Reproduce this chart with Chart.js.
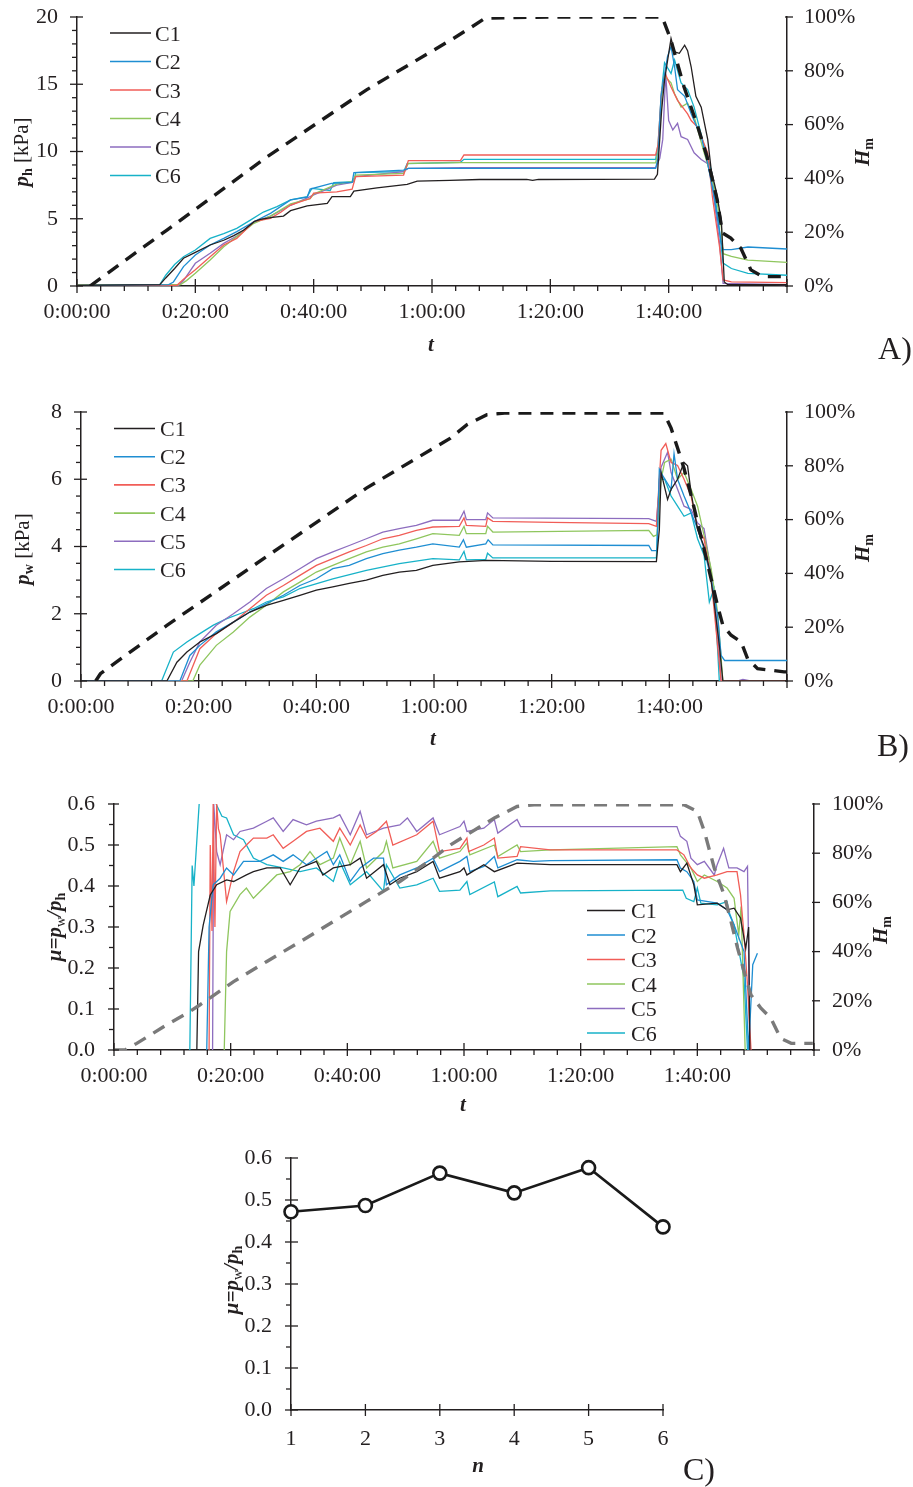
<!DOCTYPE html>
<html><head><meta charset="utf-8">
<script src="https://cdn.jsdelivr.net/npm/chart.js@4.4.1/dist/chart.umd.min.js"></script>
<style>
html,body{margin:0;padding:0;background:#fff;}
body{width:913px;height:1487px;position:relative;overflow:hidden;}
canvas{position:absolute;left:0;}
</style></head><body>
<canvas id="cA"></canvas><canvas id="cB"></canvas><canvas id="cC"></canvas><canvas id="cD"></canvas>
<script>
// ---------------- DATA ----------------
const seriesNames = ['C1','C2','C3','C4','C5','C6'];
const timeTickLabels = ['0:00:00','0:20:00','0:40:00','1:00:00','1:20:00','1:40:00'];
const hmTickLabels = ['0%','20%','40%','60%','80%','100%'];
const phTickLabels = ['0','5','10','15','20'];
const pwTickLabels = ['0','2','4','6','8'];
const muTickLabels = ['0.0','0.1','0.2','0.3','0.4','0.5','0.6'];
const nValues = [1,2,3,4,5,6];
const nTickLabels = ['1','2','3','4','5','6'];
const muMean = [0.472,0.487,0.564,0.517,0.577,0.436];

// Panel A: p_h [kPa] vs t [min]
const A_C1 = [[0,0.05],[14,0.1],[15,0.6],[16.5,1.3],[18,2.06],[20,2.5],[22.5,3.05],[24.8,3.4],[26.5,3.75],[28.2,4.16],[30,4.8],[31,4.95],[33,5.1],[34.9,5.2],[36.1,5.6],[38.9,5.95],[42.3,6.15],[43.1,6.64],[46.2,6.64],[46.8,7.06],[50.7,7.3],[55.8,7.56],[57.5,7.8],[63,7.85],[68,7.92],[76,7.92],[77,7.85],[78,7.92],[97.6,7.95],[98.1,8.3],[98.8,13.0],[99.3,15.3],[100.4,18.4],[101,17.4],[101.8,17.3],[102.7,17.9],[103.2,17.5],[103.8,16.3],[104.6,14.1],[105.5,13.3],[106.6,10.9],[107.2,8.6],[108,7.1],[108.9,4.9],[109.4,0.3],[110,0.1],[120,0.1]];
const A_C2 = [[0,0.05],[15.5,0.1],[16.3,0.3],[18,1.44],[20,2.3],[22.5,3.05],[24.8,3.54],[27,4.04],[29.9,4.78],[32.7,5.4],[36.1,6.4],[38.9,6.6],[39.4,7.2],[43,7.63],[46.5,7.7],[46.8,8.43],[55.2,8.62],[56,8.75],[97.8,8.75],[98.2,9.5],[98.7,14.1],[99.8,17.05],[100.4,17.8],[101,16.3],[101.5,14.6],[102.7,14.1],[103.8,12.8],[105.5,11.1],[106.6,9.1],[107.7,6.6],[108.9,3.2],[109.2,2.7],[110.6,2.7],[113.4,2.9],[120,2.75]];
const A_C3 = [[0,0.05],[16.9,0.05],[18,0.5],[20,1.2],[22.5,2.18],[24.8,3.05],[27,3.54],[29.9,4.78],[32.7,5.03],[34.5,5.5],[36.1,6.02],[38.3,6.34],[39.4,6.5],[40,6.9],[43.9,7.0],[46.5,7.2],[47.1,8.13],[55.2,8.25],[56,9.32],[64.8,9.32],[65.4,9.74],[80,9.74],[97.8,9.74],[98.2,10.5],[98.8,14.5],[99.4,15.8],[100.4,14.8],[101.5,13.8],[103.2,12.8],[103.8,12.3],[104.9,11.8],[106.6,9.9],[107.4,6.6],[108.6,2.9],[109.2,0.45],[110.6,0.3],[120,0.25]];
const A_C4 = [[0,0.1],[17.5,0.1],[18.5,0.4],[20,0.94],[22.5,1.93],[24.8,2.92],[27,3.67],[29.9,4.66],[32.7,5.2],[36.1,6.1],[39.4,6.5],[40,6.84],[43.9,7.58],[46.5,7.76],[47.1,8.25],[55.2,8.38],[56,9.12],[65,9.18],[97.8,9.15],[98.2,10],[98.8,14],[99.3,15.6],[100.4,15.1],[101,14.3],[102.1,13.3],[103.2,13.6],[104.3,12.6],[106,9.9],[107.7,7.4],[108.9,4.4],[109.2,2.4],[110.6,2.2],[113.4,1.93],[120,1.75]];
const A_C5 = [[0,0.05],[17.2,0.05],[18,0.4],[20,1.69],[22.5,2.43],[24.8,3.17],[27,3.72],[29.9,4.78],[32.7,5.2],[36.1,6.0],[39.4,6.64],[40,6.77],[43.9,7.5],[46.5,7.7],[47.1,8.13],[55.2,8.5],[56,8.75],[65,8.8],[97.8,8.8],[98.5,9.5],[99,10.9],[99.5,15.8],[100,12.3],[100.7,11.6],[101.5,12.1],[102.1,11.1],[103.2,10.9],[104.3,9.9],[105.5,9.4],[106.6,9.1],[107.4,7.4],[108.6,3.2],[109.2,0.2],[120,0.1]];
const A_C6 = [[0,0.05],[14,0.1],[15,0.8],[16.5,1.6],[18,2.18],[20,2.68],[22.5,3.54],[24.8,3.9],[27,4.29],[29.3,4.9],[31.5,5.5],[33.8,5.9],[36.1,6.4],[38.9,6.64],[39.7,7.26],[42.8,7.1],[43.4,7.68],[46.8,7.76],[47.1,8.43],[55.2,8.5],[55.8,9.1],[64.8,9.2],[65.4,9.42],[97.8,9.42],[98.2,10.5],[98.8,14.5],[99.3,16.6],[100.4,15.8],[101,16.8],[102.1,15.1],[103.2,14.6],[104.3,13.3],[106,10.4],[107.2,8.6],[108.3,5.2],[109.2,1.7],[110.6,1.3],[113.4,0.94],[120,0.8]];
const A_HM = [[2.2,0],[15.2,20.8],[32.1,48],[49,73],[63.6,92],[66.5,96],[69,99.6],[80,100],[98.9,100],[100.3,92],[102.6,74],[104.8,60],[106.5,48],[108.2,32],[109.1,19.7],[110.5,17.8],[112.2,14],[113.9,6],[115.9,3.5],[120,3.5]];

// Panel B: p_w [kPa] vs t [min]
const B_C1 = [[0,0],[14.6,0],[16.3,0.56],[18,0.86],[20.2,1.16],[23,1.41],[25.9,1.75],[28.7,2.05],[31.5,2.25],[34.4,2.4],[37.2,2.55],[40,2.7],[42.8,2.8],[45.6,2.9],[48.5,3.0],[51.3,3.14],[54.1,3.24],[57,3.29],[59.8,3.44],[64.3,3.54],[69,3.59],[80,3.56],[97.8,3.55],[98.3,4.5],[98.6,6.2],[99.7,5.4],[100.3,5.7],[101.4,6.0],[102.5,6.5],[103.1,6.4],[103.7,5.6],[104.8,4.5],[105.9,4.0],[106.8,3.34],[107.6,2.35],[108.5,1.06],[109.1,0],[120,0]];
const B_C2 = [[0,0],[16.8,0],[18.5,0.76],[20.2,1.06],[23,1.46],[25.9,1.75],[28.7,2.05],[31.5,2.3],[34.4,2.55],[37.2,2.84],[40,3.04],[42.8,3.34],[45.6,3.44],[48.5,3.64],[51.3,3.79],[54.1,3.89],[57,3.98],[59.8,4.08],[64.3,3.98],[65,4.2],[65.5,3.98],[68.8,4.08],[69.2,4.2],[70,4.05],[96.5,4.03],[97,3.88],[97.9,3.88],[98.3,6.3],[98.9,6.1],[100.3,5.7],[100.8,6.76],[101.4,6.0],[102.5,5.5],[103.7,5.0],[104.8,4.53],[105.9,3.93],[107.1,3.04],[108.2,1.95],[108.8,0.76],[109.4,0.61],[120,0.61]];
const B_C3 = [[0,0],[18,0],[20.2,0.96],[23,1.41],[25.9,1.75],[28.7,2.15],[31.5,2.55],[34.4,2.84],[37.2,3.14],[40,3.44],[42.8,3.64],[45.6,3.84],[48.5,4.03],[51.3,4.23],[54.1,4.33],[57,4.48],[59.8,4.58],[64.3,4.6],[65.1,4.85],[65.5,4.63],[68.8,4.6],[69.1,4.85],[70,4.75],[80,4.72],[96.5,4.68],[97.8,4.6],[98.6,6.86],[99.4,7.06],[100.3,6.5],[101.4,6.41],[102.5,6.0],[103.7,5.5],[104.8,4.53],[105.9,4.23],[107.1,3.04],[108.2,1.06],[108.8,0],[120,0]];
const B_C4 = [[0,0],[19,0],[20.2,0.47],[23,1.06],[25.9,1.46],[28.7,1.9],[31.5,2.25],[34.4,2.65],[37.2,2.94],[40,3.24],[42.8,3.44],[45.6,3.64],[48.5,3.84],[51.3,3.98],[54.1,4.08],[57,4.23],[59.8,4.38],[64.3,4.33],[65.1,4.6],[65.5,4.38],[68.8,4.38],[69.1,4.6],[70,4.43],[96.5,4.48],[97.3,4.3],[97.9,4.35],[98.6,6.0],[99.2,6.5],[100.3,6.6],[101.4,6.0],[102.5,6.2],[103.7,5.7],[104.8,5.2],[105.9,4.33],[107.1,3.34],[108.2,2.05],[109.1,0],[120,0]];
const B_C5 = [[0,0],[17.1,0],[18.5,0.56],[20.2,1.16],[23,1.66],[25.9,2.0],[28.7,2.35],[31.5,2.75],[34.4,3.04],[37.2,3.34],[40,3.64],[42.8,3.84],[45.6,4.03],[48.5,4.23],[51.3,4.43],[54.1,4.53],[57,4.63],[59.8,4.78],[64.3,4.78],[65.1,5.05],[65.5,4.8],[68.8,4.8],[69.1,5.0],[70,4.85],[96.5,4.83],[97.8,4.75],[98.6,6.36],[99.7,6.8],[100.3,6.2],[101.4,5.7],[102.5,5.2],[103.7,5.1],[104.8,4.7],[105.9,4.53],[107.1,3.24],[108.2,1.56],[108.8,0],[111.5,0],[112.5,0.05],[113.8,0],[120,0]];
const B_C6 = [[0,0],[13.7,0],[15.7,0.86],[18,1.16],[20.2,1.41],[22.5,1.66],[24.7,1.85],[27,2.0],[29.3,2.15],[31.5,2.35],[34.4,2.5],[37.2,2.75],[42.8,3.04],[48.5,3.29],[54.1,3.49],[59.8,3.64],[64.3,3.6],[65.1,3.85],[65.5,3.6],[68.8,3.62],[69.1,3.8],[70,3.66],[97.8,3.66],[98.3,6.0],[99.2,6.0],[100.3,5.5],[101.4,5.2],[102.5,4.9],[103.7,5.0],[104.8,4.23],[105.9,3.74],[106.8,2.35],[107.6,2.75],[108.2,0.96],[108.5,0],[120,0]];
const B_HM = [[2.5,0],[3.3,2.7],[14.6,20.7],[31.5,46.2],[48.5,71.7],[62.8,90.3],[65.6,95.3],[69,99],[72,99.6],[99.1,99.6],[100.3,94],[101.4,86.6],[102.5,79],[103.7,69],[104.8,59],[105.9,49],[107.1,38],[108.2,28],[109.1,20.7],[110.5,17],[112.2,14.5],[113.3,8.3],[115,4.6],[119.5,3.4],[120,3.4]];

// Panel C: mu = p_w/p_h vs t [min]
const C_C1 = [[14.2,0],[14.5,0.24],[15.3,0.305],[16.5,0.378],[17.6,0.403],[19.3,0.415],[20.5,0.411],[22.7,0.427],[23.9,0.435],[26.2,0.444],[28.5,0.444],[30.2,0.403],[31.9,0.444],[34.7,0.46],[35.8,0.427],[37.6,0.444],[40.5,0.452],[42.2,0.468],[43.3,0.419],[46.2,0.452],[47.3,0.403],[49,0.419],[51.9,0.435],[54.7,0.46],[55.8,0.419],[59.3,0.435],[60,0.444],[60.5,0.427],[63.4,0.452],[65.2,0.435],[69.1,0.456],[74.8,0.452],[96.5,0.452],[97.1,0.435],[98.2,0.456],[99.4,0.403],[100,0.354],[103.4,0.358],[105.1,0.342],[106.3,0.346],[107.4,0.322],[108.3,0.248],[108.8,0.3],[109.0,0]];
const C_C2 = [[15.9,0],[16.3,0.3],[17,0.403],[18.2,0.419],[19.3,0.444],[20.5,0.427],[22.2,0.46],[25,0.46],[27.3,0.476],[29,0.46],[30.7,0.476],[33,0.452],[36.5,0.484],[37.6,0.452],[38.7,0.476],[40.5,0.411],[42.2,0.444],[44.5,0.468],[46.2,0.468],[46.7,0.403],[49,0.427],[51.9,0.444],[54.7,0.468],[55.8,0.435],[59.3,0.46],[60.5,0.472],[61,0.435],[63.4,0.448],[65.2,0.472],[65.8,0.444],[69.1,0.464],[71.9,0.46],[74.8,0.462],[96.5,0.464],[97.1,0.444],[98.2,0.435],[99.4,0.411],[100,0.366],[103.4,0.358],[105.1,0.342],[106.3,0.305],[108,0.24],[108.8,0],[109.5,0.208],[110.3,0.236]];
const C_C3 = [[16.3,0],[16.5,0.5],[16.8,0.29],[17,0.6],[17.3,0.3],[17.6,0.6],[17.9,0.54],[18.2,0.525],[19.3,0.362],[20.5,0.435],[21.6,0.484],[22.7,0.5],[23.9,0.517],[26.2,0.517],[27.3,0.525],[29,0.492],[30.7,0.509],[33,0.533],[35.3,0.541],[37.6,0.509],[38.7,0.541],[40.5,0.5],[42.2,0.549],[43.3,0.517],[45,0.533],[46.7,0.558],[47.8,0.5],[51.9,0.525],[54.7,0.558],[55.8,0.484],[59.3,0.492],[60.5,0.517],[60.8,0.484],[63.4,0.5],[65.2,0.517],[65.8,0.468],[69.1,0.472],[69.7,0.496],[74.8,0.488],[96.5,0.488],[97.7,0.476],[98.9,0.444],[100,0.427],[101.2,0.419],[103.4,0.427],[105.1,0.435],[106.8,0.435],[107.4,0.379],[108,0.281],[108.6,0.159],[109.2,0]];
const C_C4 = [[18.9,0],[19.3,0.24],[19.9,0.338],[21.6,0.379],[22.7,0.395],[23.9,0.37],[26.2,0.403],[27.9,0.427],[30.2,0.435],[31.9,0.452],[33.6,0.484],[35.3,0.452],[37.6,0.468],[38.7,0.517],[40.5,0.452],[42.2,0.509],[43.3,0.444],[46.2,0.484],[46.7,0.509],[47.8,0.444],[51.9,0.46],[54.7,0.509],[55.8,0.468],[59.3,0.484],[60.5,0.505],[61,0.476],[65.2,0.5],[65.8,0.472],[69.1,0.5],[69.7,0.484],[74.8,0.488],[96.5,0.496],[97.1,0.476],[98.9,0.444],[100,0.411],[101.2,0.427],[103.4,0.411],[105.1,0.395],[106.3,0.37],[107.1,0.281],[107.5,0.35],[108.2,0]];
const C_C5 = [[16.9,0],[17.1,0.6],[17.6,0.484],[18.2,0.452],[19.3,0.525],[20.5,0.513],[21.6,0.533],[23.9,0.541],[26.2,0.558],[27.3,0.566],[29,0.533],[30.7,0.562],[33,0.549],[34.7,0.558],[37.6,0.566],[38.7,0.574],[40.5,0.525],[42.2,0.582],[43.3,0.525],[46.2,0.541],[49,0.549],[50.3,0.566],[51.9,0.533],[54.7,0.566],[55.8,0.525],[59.3,0.545],[60,0.558],[60.5,0.533],[63.4,0.541],[65.2,0.562],[65.8,0.529],[69.1,0.562],[69.7,0.545],[74.8,0.545],[96.5,0.545],[97.1,0.521],[98.2,0.509],[98.9,0.468],[100,0.452],[101.2,0.46],[102.9,0.427],[103.4,0.452],[104.5,0.492],[105.4,0.444],[106.8,0.444],[108,0.435],[108.6,0.448],[109,0]];
const C_C6 = [[13,0],[13.4,0.45],[13.7,0.4],[14.6,0.6],[14.7,null],[17.4,null],[17.5,0.6],[18.5,0.57],[19.3,0.566],[20.5,0.525],[22.2,0.513],[23.9,0.468],[26.2,0.452],[29,0.444],[31.9,0.435],[34.7,0.444],[37.6,0.411],[38.7,0.46],[40.5,0.403],[43.3,0.435],[46.2,0.387],[46.7,0.452],[49,0.395],[51.9,0.403],[54.7,0.419],[55.8,0.387],[59.3,0.39],[60.5,0.411],[61,0.379],[65.2,0.41],[65.8,0.374],[69.1,0.399],[69.7,0.383],[74.8,0.388],[97.5,0.39],[98.1,0.37],[99.4,0.362],[100,0.395],[100.6,0.358],[103.4,0.354],[105.1,0.362],[105.4,0.338],[106.3,0.305],[108,0.175],[108.6,0]];
const C_HM = [[0,0],[1.9,0],[3.9,2.7],[9,10.2],[12.5,14.9],[14.7,18.3],[20.5,27.8],[26.2,36],[31.9,44],[37.6,52.2],[43.3,60.4],[49,68.5],[54.7,78],[57.7,83.4],[60.5,87.5],[65.2,94.3],[69.1,99],[72,99.7],[97.7,99.7],[100,97],[101.2,88.9],[102.9,74],[104.6,63],[105.8,52],[106.9,41.4],[108,32],[109.2,22.4],[110.9,17],[112.6,12.9],[114.3,4.7],[116.1,2.7],[119.8,2.7]];

// ---------------- STYLE ----------------
const seriesColors = ['#231f20','#1f8ed2','#f15d57','#8fc65e','#8d6dbf','#17b2c8'];
const SERIF = "'Liberation Serif','Times New Roman',serif";
const TXT = '#231f20';
const AX = '#231f20';
const FS = 22;
const R = s => `${s}px ${SERIF}`;
const B = s => `bold ${s}px ${SERIF}`;
const BI = s => `italic bold ${s}px ${SERIF}`;
Chart.defaults.font.family = SERIF;
Chart.defaults.font.size = FS;
Chart.defaults.color = TXT;

function richText(ctx, parts, x, y, rot) {
  ctx.save();
  ctx.translate(x, y);
  if (rot) ctx.rotate(rot);
  let w = 0, maxS = 0;
  for (const p of parts) { ctx.font = p.f; p.w = ctx.measureText(p.t).width; w += p.w; maxS = Math.max(maxS, parseFloat(p.f.match(/(\d+)px/)[1])); }
  let cx = -w / 2;
  ctx.fillStyle = TXT; ctx.textBaseline = 'alphabetic'; ctx.textAlign = 'left';
  for (const p of parts) { ctx.font = p.f; ctx.fillText(p.t, cx, maxS * 0.34 + (p.dy || 0)); cx += p.w; }
  ctx.restore();
}

function tickPlugin(specs) {
  return {
    id: 'axisTicks',
    afterDraw(chart) {
      const ctx = chart.ctx;
      ctx.save(); ctx.strokeStyle = AX; ctx.lineWidth = 1.3;
      for (const sp of specs) {
        const s = chart.scales[sp.id];
        const n = Math.round((s.max - s.min) / sp.minor);
        for (let i = 0; i <= n; i++) {
          const v = s.min + i * sp.minor;
          const q = v / sp.major;
          const isMajor = Math.abs(q - Math.round(q)) < 1e-6;
          const len = isMajor ? sp.maj : sp.min;
          if (!len) continue;
          const p = s.getPixelForValue(v);
          ctx.beginPath();
          if (sp.side === 'bottom') { ctx.moveTo(p, s.top - len[0]); ctx.lineTo(p, s.top + len[1]); }
          else if (sp.side === 'left') { ctx.moveTo(s.right + len[0], p); ctx.lineTo(s.right - len[1], p); }
          else { ctx.moveTo(s.left - len[0], p); ctx.lineTo(s.left + len[1], p); }
          ctx.stroke();
        }
      }
      ctx.restore();
    }
  };
}

function decoPlugin(top, deco) {
  return {
    id: 'deco',
    afterDraw(chart) {
      const ctx = chart.ctx;
      if (deco.legend) {
        const L = deco.legend;
        chart.data.datasets.forEach(ds => {
          const idx = seriesNames.indexOf(ds.label);
          if (idx < 0) return;
          const y = L.y0 + idx * L.dy - top;
          ctx.save();
          ctx.strokeStyle = ds.borderColor; ctx.lineWidth = 1.6;
          ctx.beginPath(); ctx.moveTo(L.x0, y); ctx.lineTo(L.x1, y); ctx.stroke();
          ctx.fillStyle = TXT; ctx.font = R(FS); ctx.textBaseline = 'alphabetic'; ctx.textAlign = 'left';
          ctx.fillText(ds.label, L.tx, y + 7.5);
          ctx.restore();
        });
      }
      for (const t of deco.texts) richText(ctx, t.parts, t.x, t.y - top, t.rot);
    }
  };
}

const axisBase = () => ({ grid: { display: false, drawTicks: false }, border: { display: true, color: AX, width: 1.5 } });
const noPad = s => { s.paddingTop = 0; s.paddingBottom = 0; s.paddingLeft = 0; s.paddingRight = 0; };

function makeChart(id, g, datasets, scales, ticks, deco) {
  const cv = document.getElementById(id);
  cv.style.top = g.top + 'px';
  cv.width = 913; cv.height = g.h;
  cv.style.width = '913px'; cv.style.height = g.h + 'px';
  return new Chart(cv, {
    type: 'line',
    data: { datasets },
    options: {
      responsive: false, animation: false,
      layout: { autoPadding: false, padding: { top: g.Ta - g.top, left: 0, right: g.padR || 0, bottom: 0 } },
      plugins: { legend: { display: false }, tooltip: { enabled: false } },
      elements: { point: { radius: 0 }, line: { tension: 0 } },
      scales
    },
    plugins: [tickPlugin(ticks), decoPlugin(g.top, deco)]
  });
}

const pts = arr => arr.map(([x, y]) => ({ x, y }));

function timeDatasets(series, hm, hmColor, hmWidth) {
  const ds = [{ label: 'Hm', data: pts(hm), yAxisID: 'h', borderColor: hmColor, borderWidth: hmWidth, borderDash: [13, 9], pointRadius: 0, fill: false }];
  series.forEach((s, i) => ds.push({ label: seriesNames[i], data: pts(s), yAxisID: 'y', borderColor: seriesColors[i], borderWidth: 1.3, pointRadius: 0, fill: false, spanGaps: false }));
  return ds;
}

function timeScales(g, yMax, yStep, yLabels, yPad, hPad) {
  return {
    x: Object.assign(axisBase(), { type: 'linear', min: 0, max: 120,
      afterFit: s => { s.height = g.top + g.h - g.Ba; noPad(s); },
      ticks: { stepSize: 20, autoSkip: false, maxRotation: 0, minRotation: 0, padding: 13,
        callback: v => timeTickLabels[Math.round(v / 20)] ?? '' } }),
    y: Object.assign(axisBase(), { type: 'linear', position: 'left', min: 0, max: yMax,
      afterFit: s => { s.width = g.L; noPad(s); },
      ticks: { stepSize: yStep, padding: yPad, callback: v => yLabels[Math.round(v / yStep)] } }),
    h: Object.assign(axisBase(), { type: 'linear', position: 'right', min: 0, max: 100,
      afterFit: s => { s.width = 913 - g.R; noPad(s); },
      ticks: { stepSize: 20, padding: hPad, callback: v => hmTickLabels[Math.round(v / 20)] } })
  };
}

const muTitle = [{ t: 'μ=', f: BI(21) }, { t: 'p', f: BI(21) }, { t: 'w', f: R(14), dy: 4 }, { t: '/', f: BI(21) }, { t: 'p', f: BI(21) }, { t: 'h', f: B(14), dy: 4 }];
const HmTitle = [{ t: 'H', f: BI(21) }, { t: 'm', f: B(14), dy: 4 }];

// ---- Panel A ----
const gA = { top: 0, h: 370, L: 77, R: 787, Ta: 17, Ba: 286 };
makeChart('cA', gA, timeDatasets([A_C1, A_C2, A_C3, A_C4, A_C5, A_C6], A_HM, '#1a1a1a', 3.4),
  timeScales(gA, 20, 5, phTickLabels, 19, 17),
  [{ id: 'x', side: 'bottom', major: 20, minor: 4, maj: [7, 7], min: [0, 5] },
   { id: 'y', side: 'left', major: 5, minor: 1, maj: [6, 7], min: [0, 5] },
   { id: 'h', side: 'right', major: 20, minor: 20, maj: [2, 6], min: null }],
  { legend: { x0: 110, x1: 151, tx: 155, y0: 33, dy: 28.5 },
    texts: [
      { x: 21, y: 152, rot: -Math.PI / 2, parts: [{ t: 'p', f: BI(21) }, { t: 'h', f: B(14), dy: 4 }, { t: ' [kPa]', f: R(21) }] },
      { x: 862, y: 152, rot: -Math.PI / 2, parts: HmTitle.map(p => ({ ...p })) },
      { x: 431, y: 344, parts: [{ t: 't', f: BI(21) }] },
      { x: 895, y: 348, parts: [{ t: 'A)', f: R(32) }] }
    ] });

// ---- Panel B ----
const gB = { top: 390, h: 380, L: 81, R: 787, Ta: 412, Ba: 681 };
makeChart('cB', gB, timeDatasets([B_C1, B_C2, B_C3, B_C4, B_C5, B_C6], B_HM, '#1a1a1a', 3.4),
  timeScales(gB, 8, 2, pwTickLabels, 19, 17),
  [{ id: 'x', side: 'bottom', major: 20, minor: 4, maj: [7, 7], min: [0, 5] },
   { id: 'y', side: 'left', major: 2, minor: 0.5, maj: [6, 7], min: [0, 5] },
   { id: 'h', side: 'right', major: 20, minor: 20, maj: [2, 6], min: null }],
  { legend: { x0: 114, x1: 155, tx: 160, y0: 428.5, dy: 28.2 },
    texts: [
      { x: 22, y: 549, rot: -Math.PI / 2, parts: [{ t: 'p', f: BI(21) }, { t: 'w', f: B(14), dy: 4 }, { t: ' [kPa]', f: R(21) }] },
      { x: 862, y: 548, rot: -Math.PI / 2, parts: HmTitle.map(p => ({ ...p })) },
      { x: 433, y: 738, parts: [{ t: 't', f: BI(21) }] },
      { x: 893, y: 745, parts: [{ t: 'B)', f: R(32) }] }
    ] });

// ---- Panel C (mu vs t) ----
const gC = { top: 775, h: 345, L: 114, R: 814, Ta: 804, Ba: 1050 };
makeChart('cC', gC, timeDatasets([C_C1, C_C2, C_C3, C_C4, C_C5, C_C6], C_HM, '#7a7a7a', 3.4),
  timeScales(gC, 0.6, 0.1, muTickLabels, 19, 18),
  [{ id: 'x', side: 'bottom', major: 20, minor: 4, maj: [7, 6], min: [0, 5] },
   { id: 'y', side: 'left', major: 0.1, minor: 0.05, maj: [5, 6], min: [0, 5] },
   { id: 'h', side: 'right', major: 20, minor: 20, maj: [2, 6], min: null }],
  { legend: { x0: 587, x1: 625, tx: 631, y0: 910.5, dy: 24.5 },
    texts: [
      { x: 54, y: 927, rot: -Math.PI / 2, parts: muTitle.map(p => ({ ...p })) },
      { x: 880, y: 930, rot: -Math.PI / 2, parts: HmTitle.map(p => ({ ...p })) },
      { x: 463, y: 1104, parts: [{ t: 't', f: BI(21) }] }
    ] });

// ---- Panel C) mean mu vs n ----
const gD = { top: 1125, h: 362, L: 291, R: 663, Ta: 1158, Ba: 1410, padR: 913 - 663 };
makeChart('cD', gD,
  [{ label: 'mu', data: nValues.map((n, i) => ({ x: n, y: muMean[i] })), borderColor: '#1a1a1a', borderWidth: 2.6,
     pointRadius: 6.5, pointBackgroundColor: '#ffffff', pointBorderColor: '#1a1a1a', pointBorderWidth: 2.6, clip: false, fill: false }],
  {
    x: Object.assign(axisBase(), { type: 'linear', min: 1, max: 6,
      afterFit: s => { s.height = gD.top + gD.h - gD.Ba; noPad(s); },
      ticks: { stepSize: 1, autoSkip: false, maxRotation: 0, padding: 16, callback: v => nTickLabels[Math.round(v) - 1] } }),
    y: Object.assign(axisBase(), { type: 'linear', position: 'left', min: 0, max: 0.6,
      afterFit: s => { s.width = gD.L; noPad(s); },
      ticks: { stepSize: 0.1, padding: 19, callback: v => muTickLabels[Math.round(v * 10)] } })
  },
  [{ id: 'x', side: 'bottom', major: 1, minor: 1, maj: [6, 6], min: null },
   { id: 'y', side: 'left', major: 0.1, minor: 0.05, maj: [7, 6], min: [0, 5] }],
  { texts: [
      { x: 231, y: 1280, rot: -Math.PI / 2, parts: muTitle.map(p => ({ ...p })) },
      { x: 478, y: 1465, parts: [{ t: 'n', f: BI(21) }] },
      { x: 699, y: 1469, parts: [{ t: 'C)', f: R(32) }] }
    ] });
</script>
</body></html>
